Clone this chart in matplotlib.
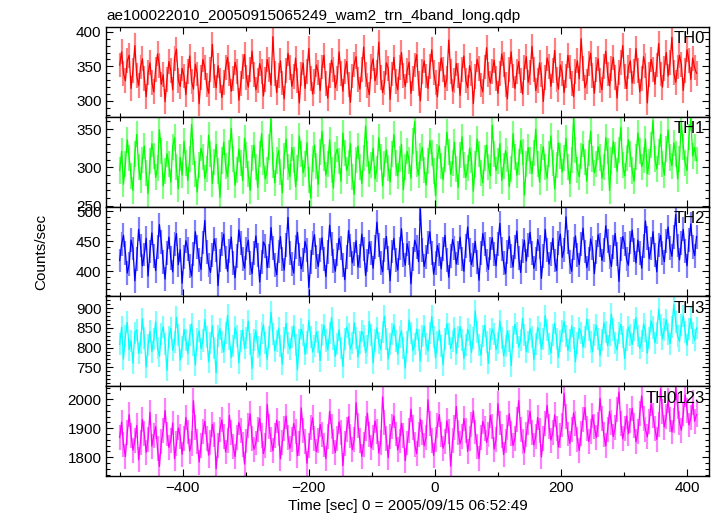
import matplotlib
matplotlib.use("Agg")
import matplotlib.pyplot as plt
from matplotlib.ticker import MultipleLocator
import numpy as np

plt.rcParams['font.family'] = ['Liberation Sans', 'DejaVu Sans']

# light curves, 3 s bins starting at t = -500 s
th0 = [352, 371, 340, 329, 358, 366, 318, 344, 380, 337, 322, 349, 361, 333, 306, 341, 355, 327,
       313, 346, 368, 351, 324, 338, 299, 331, 357, 344, 316, 362, 375, 330, 321, 347, 336, 309,
       342, 365, 328, 317, 353, 339, 296, 334, 360, 348, 323, 311, 345, 382, 336, 319, 351, 330,
       305, 327, 348, 363, 339, 314, 332, 356, 343, 301, 325, 350, 367, 334, 320, 346, 372, 338,
       316, 329, 354, 342, 307, 331, 360, 345, 323, 393, 340, 312, 337, 358, 326, 303, 344, 369,
       348, 321, 335, 362, 330, 297, 339, 355, 318, 343, 376, 333, 310, 328, 352, 341, 315, 349,
       366, 325, 304, 337, 359, 346, 319, 332, 371, 340, 314, 343, 357, 324, 298, 336, 353, 364,
       331, 317, 345, 378, 338, 322, 309, 350, 361, 329, 341, 385, 334, 312, 326, 355, 347, 302,
       339, 363, 328, 316, 348, 370, 337, 321, 344, 356, 311, 333, 352, 367, 325, 300, 342, 358,
       336, 318, 350, 374, 341, 327, 306, 339, 362, 345, 320, 332, 388, 343, 314, 329, 354, 337,
       308, 346, 365, 330, 319, 351, 340, 296, 335, 360, 347, 323, 313, 349, 377, 338, 326, 343,
       359, 332, 311, 340, 368, 353, 324, 303, 345, 371, 336, 318, 342, 357, 329, 310, 348, 364,
       327, 341, 379, 346, 315, 330, 355, 338, 299, 334, 362, 350, 321, 344, 373, 331, 317, 352,
       340, 312, 336, 366, 349, 325, 306, 343, 358, 332, 390, 347, 319, 328, 354, 369, 337, 311,
       345, 361, 329, 316, 350, 372, 339, 322, 347, 363, 334, 304, 341, 356, 380, 335, 318, 349,
       358, 326, 342, 376, 344, 313, 333, 364, 351, 297, 338, 360, 346, 324, 352, 383, 339, 320,
       347, 370, 336, 355, 392, 341, 327, 349, 366, 353, 315, 344, 374, 358, 331, 362, 348, 340]
th1 = [296, 321, 278, 305, 336, 312, 289, 270, 317, 343, 301, 284, 310, 328, 293, 266, 308, 331,
       315, 287, 299, 349, 322, 276, 295, 318, 304, 281, 327, 339, 300, 272, 313, 290, 334, 306,
       283, 311, 356, 320, 292, 268, 303, 325, 314, 286, 298, 342, 317, 279, 307, 330, 295, 261,
       309, 333, 302, 288, 319, 351, 311, 277, 297, 324, 306, 283, 338, 316, 291, 270, 312, 329,
       300, 274, 318, 344, 307, 285, 296, 327, 363, 303, 280, 309, 322, 294, 267, 315, 337, 301,
       288, 326, 310, 275, 299, 341, 318, 293, 305, 332, 284, 260, 311, 329, 302, 278, 320, 347,
       313, 290, 304, 336, 297, 273, 316, 324, 308, 282, 345, 319, 296, 306, 331, 287, 265, 310,
       328, 301, 279, 312, 354, 317, 292, 303, 325, 285, 298, 339, 314, 276, 305, 323, 299, 281,
       318, 343, 306, 289, 311, 330, 271, 300, 321, 309, 286, 334, 360, 304, 290, 315, 326, 297,
       277, 308, 335, 319, 295, 263, 314, 328, 302, 284, 311, 346, 320, 291, 306, 333, 298, 274,
       316, 340, 303, 287, 299, 325, 310, 269, 305, 337, 318, 293, 280, 312, 329, 301, 289, 355,
       317, 296, 308, 331, 283, 302, 322, 311, 275, 298, 344, 314, 290, 307, 335, 320, 264, 304,
       326, 309, 292, 319, 350, 305, 281, 313, 327, 300, 286, 317, 341, 306, 272, 303, 332, 315,
       294, 312, 338, 301, 279, 310, 365, 323, 297, 288, 315, 330, 307, 282, 319, 347, 311, 293,
       305, 327, 313, 286, 300, 339, 321, 270, 309, 334, 316, 295, 323, 352, 303, 289, 312, 336,
       318, 296, 282, 314, 345, 322, 301, 310, 337, 292, 307, 329, 361, 311, 298, 320, 343, 305,
       290, 324, 349, 313, 302, 332, 318, 285, 311, 358, 327, 306, 296, 340, 364, 315, 326, 309]
th2 = [418, 446, 460, 431, 397, 412, 452, 438, 384, 421, 470, 443, 409, 428, 455, 392, 433, 464,
       426, 401, 440, 478, 449, 415, 387, 430, 457, 422, 399, 445, 463, 411, 436, 380, 424, 451,
       437, 408, 392, 429, 466, 441, 419, 403, 448, 485, 432, 410, 398, 427, 454, 436, 376, 418,
       445, 462, 423, 400, 434, 457, 414, 389, 426, 469, 447, 420, 405, 438, 452, 413, 396, 431,
       459, 427, 382, 416, 449, 442, 406, 425, 473, 439, 411, 394, 433, 458, 421, 402, 444, 490,
       430, 412, 397, 441, 465, 428, 404, 419, 450, 436, 373, 415, 447, 461, 424, 408, 435, 456,
       420, 391, 432, 477, 446, 417, 400, 428, 455, 439, 410, 386, 424, 468, 443, 414, 429, 451,
       407, 426, 462, 437, 393, 418, 449, 431, 405, 440, 482, 444, 413, 399, 435, 458, 422, 384,
       433, 455, 419, 402, 438, 471, 427, 410, 446, 430, 379, 421, 452, 441, 416, 504, 436, 408,
       424, 448, 466, 431, 395, 414, 443, 428, 404, 437, 460, 419, 390, 426, 453, 439, 412, 430,
       457, 421, 400, 442, 474, 435, 411, 427, 450, 416, 385, 430, 463, 445, 418, 403, 438, 456,
       429, 409, 446, 480, 437, 414, 396, 432, 458, 425, 407, 441, 467, 422, 398, 434, 452, 417,
       444, 465, 431, 405, 420, 453, 440, 388, 426, 470, 436, 412, 429, 455, 418, 401, 447, 462,
       423, 436, 491, 449, 415, 400, 438, 459, 427, 411, 445, 472, 433, 406, 421, 454, 439, 396,
       432, 461, 444, 418, 435, 476, 450, 424, 408, 441, 463, 429, 383, 437, 458, 446, 420, 410,
       448, 469, 436, 414, 452, 430, 405, 442, 484, 455, 421, 438, 466, 427, 399, 444, 460, 431,
       416, 451, 474, 439, 425, 457, 495, 443, 419, 447, 470, 434, 409, 452, 479, 440, 426, 458]
th3 = [808, 852, 771, 829, 864, 795, 817, 760, 838, 845, 786, 812, 873, 824, 751, 806, 841, 790,
       821, 866, 799, 778, 835, 853, 810, 742, 826, 849, 793, 815, 877, 831, 768, 802, 846, 819,
       785, 833, 860, 807, 756, 823, 842, 797, 818, 871, 827, 764, 811, 856, 800, 736, 829, 848,
       814, 789, 837, 882, 822, 775, 804, 851, 830, 761, 816, 844, 798, 825, 867, 809, 747, 820,
       843, 801, 780, 836, 858, 812, 770, 827, 890, 834, 792, 816, 849, 803, 758, 824, 862, 811,
       796, 828, 855, 806, 744, 819, 847, 832, 783, 813, 869, 826, 789, 805, 840, 815, 767, 831,
       857, 818, 794, 837, 876, 821, 778, 809, 845, 800, 752, 823, 852, 834, 797, 812, 863, 825,
       776, 813, 841, 829, 787, 804, 866, 833, 761, 818, 850, 811, 795, 839, 880, 822, 771, 808,
       835, 858, 817, 783, 826, 843, 799, 748, 814, 870, 838, 792, 808, 847, 820, 766, 830, 855,
       810, 791, 836, 879, 828, 774, 815, 844, 803, 757, 822, 861, 835, 798, 817, 849, 785, 827,
       853, 819, 772, 807, 846, 831, 788, 824, 893, 840, 806, 781, 829, 856, 814, 760, 821, 847,
       834, 795, 812, 868, 825, 779, 803, 842, 817, 754, 828, 859, 836, 801, 819, 874, 832, 790,
       815, 848, 827, 769, 809, 851, 838, 797, 823, 881, 844, 810, 786, 833, 862, 821, 775, 816,
       841, 866, 830, 793, 818, 855, 824, 764, 812, 849, 837, 801, 827, 872, 845, 814, 789, 832,
       857, 822, 780, 819, 863, 839, 805, 831, 885, 846, 811, 794, 836, 859, 826, 772, 820, 852,
       833, 808, 845, 876, 829, 798, 817, 860, 842, 786, 825, 868, 851, 812, 838, 897, 857, 822,
       846, 871, 834, 810, 852, 909, 866, 829, 816, 858, 881, 840, 806, 847, 874, 836, 819, 850]
th0123 = [1868, 1921, 1843, 1802, 1885, 1947, 1876, 1824, 1859, 1910, 1791, 1852, 1930, 1881, 1817, 1862, 1955, 1838,
          1874, 1906, 1829, 1768, 1853, 1893, 1961, 1880, 1834, 1857, 1918, 1795, 1846, 1901, 1872, 1810, 1866, 1937,
          1887, 1821, 1848, 1995, 1903, 1855, 1783, 1841, 1890, 1924, 1863, 1807, 1850, 1914, 1877, 1760, 1839, 1896,
          1929, 1871, 1818, 1859, 1944, 1885, 1836, 1801, 1867, 1920, 1893, 1845, 1776, 1856, 1908, 1950, 1864, 1827,
          1849, 1897, 1934, 1876, 1812, 1840, 1982, 1905, 1860, 1822, 1874, 1928, 1883, 1794, 1851, 1899, 1942, 1869,
          1830, 1862, 1916, 1888, 1805, 1847, 1970, 1892, 1853, 1779, 1841, 1901, 1936, 1866, 1819, 1858, 1913, 1878,
          1842, 1795, 1870, 1958, 1907, 1855, 1816, 1863, 1922, 1884, 1771, 1848, 1896, 1940, 1873, 1826, 1861, 1988,
          1910, 1857, 1803, 1845, 1898, 1952, 1879, 1832, 1867, 1925, 1889, 1814, 1851, 2008, 1919, 1864, 1798, 1871,
          1906, 1943, 1880, 1825, 1856, 1917, 1874, 1788, 1849, 1893, 1966, 1902, 1844, 1812, 1877, 1931, 1885, 1839,
          1868, 1998, 1915, 1859, 1806, 1862, 1909, 1947, 1878, 1831, 1854, 1926, 1890, 1769, 1857, 1901, 1975, 1884,
          1846, 1872, 1933, 1891, 1820, 1865, 1912, 1960, 1887, 1838, 1795, 1869, 1924, 1899, 1851, 1877, 1944, 1906,
          1828, 1861, 1985, 1918, 1873, 1809, 1856, 1904, 1950, 1882, 1840, 1866, 1929, 1996, 1897, 1853, 1816, 1879,
          1921, 1958, 1886, 1842, 1871, 1937, 1892, 1801, 1863, 1915, 1979, 1907, 1859, 1884, 1946, 1898, 1835, 1875,
          1911, 2021, 1939, 1880, 1848, 1894, 1953, 1916, 1862, 1823, 1881, 1930, 1971, 1900, 1854, 1889, 1945, 1906,
          1867, 1912, 2003, 1933, 1877, 1839, 1895, 1958, 1920, 1871, 1902, 1964, 2025, 1917, 1863, 1898, 1942, 1881,
          1926, 1969, 1908, 1853, 1888, 1951, 2012, 1935, 1896, 1870, 1923, 1984, 1943, 1899, 1861, 1914, 2036, 1957,
          1904, 1940, 1997, 1931, 1887, 1928, 2041, 1976, 1918, 1893, 1949, 2015, 1962, 1911, 1936, 1990, 1924, 1947]

series = [th0, th1, th2, th3, th0123]
names = ['TH0', 'TH1', 'TH2', 'TH3', 'TH0123']
errs = [18, 17, 20, 28, 43]
colors = ['#ff0000', '#00ff00', '#0000ff', '#00ffff', '#ff00ff']
light = ['#ff8080', '#80ff80', '#8080ff', '#80ffff', '#ff80ff']
ylims = [(277, 407), (249, 366), (358, 508), (702, 930), (1735, 2045)]
ymajor = [50, 50, 50, 50, 100]
yminor = [10, 10, 10, 10, 20]

t0 = -500
dt = 3

fig = plt.figure(figsize=(7.17, 5.16), dpi=100)
left, right = 0.1485, 0.989
top, bottom = 0.9477, 0.0775
h = (top - bottom) / 5

axes = []
for i, (vals, name) in enumerate(zip(series, names)):
    ax = fig.add_axes([left, top - (i + 1) * h, right - left, h])
    t = t0 + dt * np.arange(len(vals))
    v = np.array(vals)
    # error bars as pale bars behind the curve
    ax.vlines(t, v - errs[i], v + errs[i], color=light[i], lw=1.6, zorder=1)
    ax.plot(t, v, color=colors[i], lw=0.9, zorder=2)
    ax.set_xlim(-521, 435)
    ax.set_ylim(*ylims[i])
    ax.xaxis.set_major_locator(MultipleLocator(200))
    ax.xaxis.set_minor_locator(MultipleLocator(100))
    ax.yaxis.set_major_locator(MultipleLocator(ymajor[i]))
    ax.yaxis.set_minor_locator(MultipleLocator(yminor[i]))
    ax.tick_params(which='both', direction='in', top=True, right=True, labelsize=11)
    ax.tick_params(which='major', length=5, width=0.8)
    ax.tick_params(which='minor', length=3, width=0.8)
    for s in ax.spines.values():
        s.set_linewidth(1.0)
    if i < 4:
        ax.tick_params(labelbottom=False)
    ax.text(0.993, 0.95, name, transform=ax.transAxes, ha='right', va='top',
            fontsize=12, zorder=5)
    axes.append(ax)

axes[0].set_title('ae100022010_20050915065249_wam2_trn_4band_long.qdp',
                  loc='left', fontsize=11, pad=5)
axes[-1].set_xlabel('Time [sec] 0 = 2005/09/15 06:52:49', fontsize=11, labelpad=3)
fig.text(0.058, (top + bottom) / 2, 'Counts/sec', rotation=90, ha='center', va='center', fontsize=11)

fig.savefig('out.png', dpi=100)
